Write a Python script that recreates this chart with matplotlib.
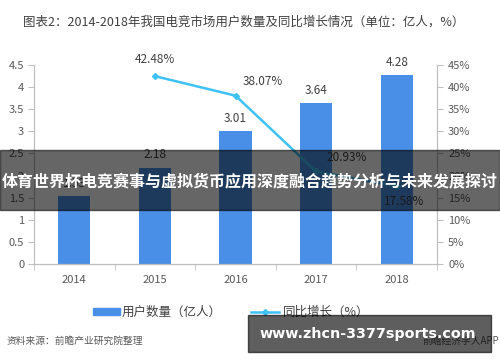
import matplotlib
matplotlib.use("Agg")
import matplotlib.pyplot as plt
from matplotlib.patches import Rectangle
from matplotlib.lines import Line2D
import numpy as np

plt.rcParams['font.family'] = ['Noto Sans CJK SC', 'DejaVu Sans']

years = ['2014', '2015', '2016', '2017', '2018']
users = [1.53, 2.18, 3.01, 3.64, 4.28]
growth_years = ['2015', '2016', '2017', '2018']
growth = [42.48, 38.07, 20.93, 17.58]
left_ticks = [0, 0.5, 1, 1.5, 2, 2.5, 3, 3.5, 4, 4.5]
right_ticks = [0, 5, 10, 15, 20, 25, 30, 35, 40, 45]

title = '图表2：2014-2018年我国电竞市场用户数量及同比增长情况（单位：亿人，%）'
banner = '体育世界杯电竞赛事与虚拟货币应用深度融合趋势分析与未来发展探讨'
source = '资料来源：前瞻产业研究院整理'
url = 'www.zhcn-3377sports.com'

bar_color = '#4A8FE7'
line_color = '#3EC1F3'
tick_color = '#595959'
spine_color = '#BFBFBF'

fig = plt.figure(figsize=(5, 3.62), dpi=100)
ax = fig.add_axes([0.068, 0.2707, 0.806, 0.5497])
ax2 = ax.twinx()

x = np.arange(len(years))
ax.bar(x, users, width=0.4, color=bar_color, zorder=2)
for xi, v in zip(x, users):
    ax.text(xi, v + 0.14, f'{v:.2f}', ha='center', va='bottom', fontsize=8.5, color='#404040')

ax.set_xlim(-0.5, len(years) - 0.5)
ax.set_ylim(0, 4.5)
ax.set_yticks(left_ticks)
ax.set_yticklabels([f'{t:g}' for t in left_ticks])
ax.set_xticks(x)
ax.set_xticklabels(years)
ax.set_xticks(np.arange(-0.5, len(years), 1), minor=True)
ax.tick_params(axis='x', which='major', length=0, labelsize=8, colors=tick_color, pad=8)
ax.tick_params(axis='x', which='minor', length=4, color=spine_color, direction='out')
ax.tick_params(axis='y', length=4, color=spine_color, labelsize=8, labelcolor=tick_color, pad=3)

gx = [years.index(y) for y in growth_years]
ax2.plot(gx, growth, color=line_color, lw=1.8, marker='D', markersize=3, zorder=3)
ax2.set_ylim(0, 45)
ax2.set_yticks(right_ticks)
ax2.set_yticklabels([f'{t}%' for t in right_ticks])
ax2.tick_params(axis='y', length=4, color=spine_color, labelsize=8, labelcolor=tick_color, pad=4)

offsets = [(0, 12), (20, 10), (22, 10), (5, -11)]
for xi, v, (dx, dy) in zip(gx, growth, offsets):
    ax2.annotate(f'{v:.2f}%', (xi, v), xytext=(dx, dy), textcoords='offset points',
                 ha='center', va='center', fontsize=8.5, color='#404040')

for a in (ax, ax2):
    a.spines['top'].set_visible(False)
    for s in ('left', 'right', 'bottom'):
        a.spines[s].set_color(spine_color)
        a.spines[s].set_linewidth(0.8)

# title
fig.text(244 / 500, 1 - 22 / 362, title, ha='center', va='center', fontsize=9.0, color='#404040')

# legend
fig.patches.append(Rectangle((93 / 500, 1 - 315 / 362), 27 / 500, 7 / 362,
                             transform=fig.transFigure, color=bar_color))
fig.text(122 / 500, 1 - 312 / 362, '用户数量（亿人）', ha='left', va='center', fontsize=9, color='#404040')
fig.lines.append(Line2D([251 / 500, 279 / 500], [1 - 312 / 362] * 2, transform=fig.transFigure,
                        color=line_color, lw=1.8))
fig.lines.append(Line2D([265 / 500], [1 - 312 / 362], transform=fig.transFigure,
                        color=line_color, marker='D', markersize=3, lw=0))
fig.text(283 / 500, 1 - 312 / 362, '同比增长（%）', ha='left', va='center', fontsize=9, color='#404040')

# source
fig.text(7 / 500, 1 - 341 / 362, source, ha='left', va='center', fontsize=7, color='#595959', style='italic')
fig.text(499 / 500, 1 - 341 / 362, '前瞻经济学人APP', ha='right', va='center', fontsize=7, color='#595959')

# overlay banner
fig.patches.append(Rectangle((0, 1 - 210 / 362), 1, 60 / 362, transform=fig.transFigure,
                             color='black', alpha=0.6, zorder=10))
fig.text(0.5, 1 - 181 / 362, banner, ha='center', va='center', fontsize=11.5,
         color='white', weight='bold', zorder=11)

# url box
fig.patches.append(Rectangle((248 / 500, 1 - 352 / 362), 243 / 500, 37 / 362,
                             transform=fig.transFigure, color='black', alpha=0.63, zorder=10))
fig.text(368 / 500, 1 - 334 / 362, url, ha='center', va='center', fontsize=10.3,
         color='white', weight='bold', zorder=11, family=['DejaVu Sans'])

fig.savefig('out.png', dpi=100)
